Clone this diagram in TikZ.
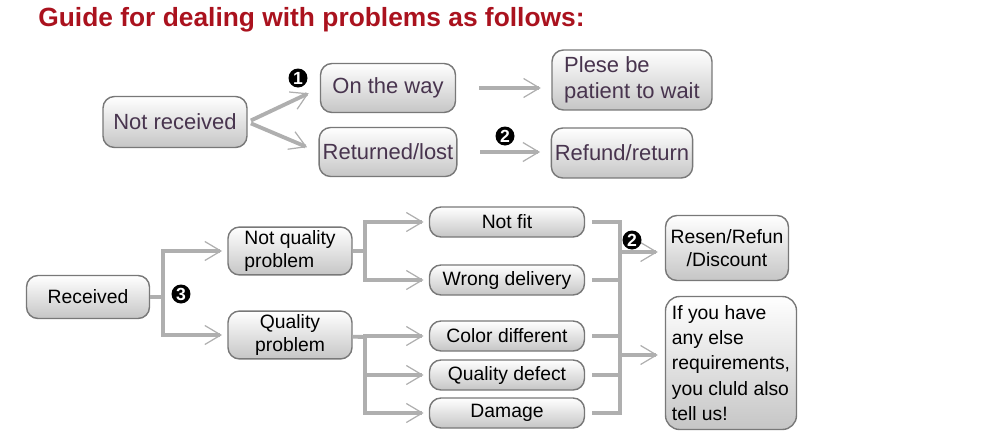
\documentclass[tikz,border=0pt]{standalone}
\usepackage{fontspec}
\setmainfont{Liberation Sans}
\usepackage{tikz}
\usetikzlibrary{arrows.meta,positioning,calc}

\definecolor{titlered}{RGB}{170,18,30}
\definecolor{boxtext}{RGB}{72,52,78}
\definecolor{boxline}{RGB}{120,120,120}
\definecolor{linkgray}{RGB}{175,175,175}

\tikzset{
  box/.style={draw=boxline, line width=0.8pt, rounded corners=6.5pt,
    top color=white, bottom color=gray!45, inner sep=2pt},
  topbox/.style={box, text=boxtext, font=\fontsize{12.5}{14.5}\selectfont},
  lowbox/.style={box, text=black, font=\fontsize{11}{13}\selectfont},
  link/.style={draw=linkgray, line width=2.2pt},
  arr/.style={link, -{Straight Barb[length=3.2mm,width=3.8mm,line width=0.7pt]}},
  badge/.style={circle, fill=black, text=white, inner sep=0pt,
    minimum size=0.38cm, font=\bfseries\fontsize{10}{11}\selectfont}
}

\begin{document}
\begin{tikzpicture}[x=0.02cm,y=-0.02cm]
  \useasboundingbox (0,0) rectangle (988,447);
  % title
  \node[anchor=west, text=titlered, font=\bfseries\fontsize{15}{18}\selectfont, inner sep=0pt]
    (title) at (38,20) {Guide for dealing with problems as follows:};

  % not received branch
  \node[topbox, minimum width=2.88cm, minimum height=1.02cm] (nr) at (175,122) {Not received};
  \node[topbox, minimum width=2.7cm, minimum height=0.98cm] (otw) at (388,88) {On the way};
  \node[topbox, minimum width=2.7cm, minimum height=0.98cm] (lost) at (388,152) {Returned/lost};
  \node[topbox, minimum width=3.2cm, minimum height=1.2cm, align=left] (wait) at (632,80)
    {Plese be\\patient to wait};
  \node[topbox, minimum width=2.72cm, minimum height=1.0cm] (refund) at (622,153) {Refund/return};

  \draw[arr, shorten <=2pt, shorten >=7pt] (nr.east) -- (otw.west);
  \draw[arr, shorten <=2pt, shorten >=7pt] (nr.east) -- (lost.west);
  \draw[arr, shorten <=13pt, shorten >=6pt] (otw.east) -- (otw.east -| wait.west);
  \draw[arr, shorten <=13pt, shorten >=6pt] (lost.east) -- (lost.east -| refund.west);
  \node[badge] (one) at (298,78) {1};
  \node[badge] (two) at (505,136) {2};

  % received branch
  \node[lowbox, minimum width=2.46cm, minimum height=0.86cm] (rec) at (88,297) {Received};
  \node[lowbox, minimum width=2.48cm, minimum height=0.86cm, align=left] (nqp) at (290,251)
    {Not quality\\problem};
  \node[lowbox, minimum width=2.48cm, minimum height=0.86cm, align=center] (qp) at (290,335)
    {Quality\\problem};
  \node[lowbox, minimum width=3.1cm, minimum height=0.6cm] (notfit) at (507,222) {Not fit};
  \node[lowbox, minimum width=3.1cm, minimum height=0.6cm] (wrong) at (507,280) {Wrong delivery};
  \node[lowbox, minimum width=3.1cm, minimum height=0.6cm] (color) at (507,336) {Color different};
  \node[lowbox, minimum width=3.1cm, minimum height=0.6cm] (defect) at (507,375) {Quality defect};
  \node[lowbox, minimum width=3.1cm, minimum height=0.6cm] (damage) at (507,413) {Damage};
  \node[lowbox, minimum width=2.46cm, minimum height=1.3cm, align=center] (resen) at (727,248)
    {Resen/Refun\\/Discount};
  \node[lowbox, rounded corners=8pt, minimum width=2.62cm, minimum height=2.66cm, align=left,
    font=\fontsize{11}{14.3}\selectfont] (other) at (731,363)
    {If you have\\any else\\requirements,\\you cluld also\\tell us!};

  \coordinate (b1) at (163,297);
  \coordinate (b2) at (365,251);
  \coordinate (b3) at (365,337);
  \coordinate (r1) at (620,252);
  \coordinate (r2) at (620,355);

  \draw[link] (rec) -- (b1);
  \draw[arr, shorten >=3pt] (b1) |- (nqp);
  \draw[arr, shorten >=3pt] (b1) |- (qp);

  \draw[link] (nqp) -- (b2);
  \draw[arr, shorten >=3pt] (b2) |- (notfit);
  \draw[arr, shorten >=3pt] (b2) |- (wrong);

  \draw[link] (qp) -- (b3);
  \draw[arr, shorten >=3pt] (b3) |- (color);
  \draw[arr, shorten >=3pt] (b3) |- (defect);
  \draw[arr, shorten >=3pt] (b3) |- (damage);

  \draw[link, shorten <=4pt] (notfit) -| (r1);
  \draw[link, shorten <=4pt] (wrong) -| (r2);
  \draw[link, shorten <=4pt] (color) -| (r1);
  \draw[link, shorten <=4pt] (defect) -| (r2);
  \draw[link, shorten <=4pt] (damage) -| (r2);
  \draw[arr, shorten >=4pt] (r1) -- (r1 -| resen.west);
  \draw[arr, shorten >=4pt] (r2) -- (r2 -| other.west);

  \node[badge] (three) at (181,294) {3};
  \node[badge] (twob) at (632,240) {2};
\end{tikzpicture}
\end{document}
